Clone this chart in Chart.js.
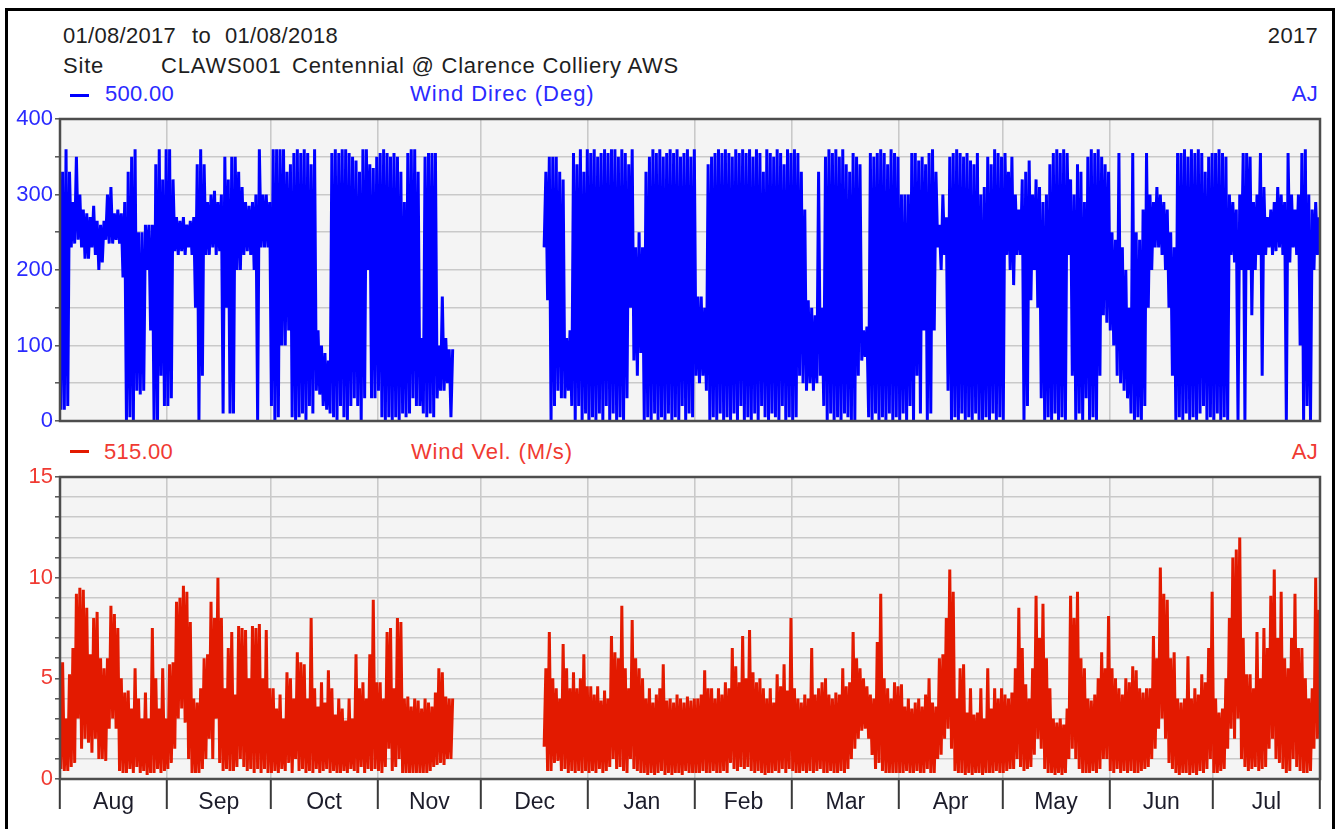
<!DOCTYPE html>
<html>
<head>
<meta charset="utf-8">
<script src="https://cdn.jsdelivr.net/npm/chart.js@4.4.1/dist/chart.umd.min.js"></script>
<style>
  html, body { margin:0; padding:0; background:#fff; }
  #wrap { position:relative; width:1338px; height:829px; overflow:hidden; font-family:"Liberation Sans", Arial, sans-serif; }
  #frame { position:absolute; left:5px; top:8px; width:1324px; height:900px; border:3px solid #000; box-sizing:content-box; }
  .t { position:absolute; font-size:22px; line-height:22px; white-space:pre; color:#1e1e1e; letter-spacing:0.3px; }
  .w { letter-spacing:0.8px; }
  .blue { color:#2a2aff; }
  .red { color:#f03a32; }
  .dash { position:absolute; height:3px; width:19px; }
  canvas { position:absolute; left:0; top:0; }
</style>
</head>
<body>
<div id="wrap">
  <div id="frame"></div>
  <div class="t" style="left:63px; top:24.6px;">01/08/2017</div>
  <div class="t" style="left:192px; top:24.6px;">to</div>
  <div class="t" style="left:225px; top:24.6px;">01/08/2018</div>
  <div class="t" style="right:20px; top:24.6px;">2017</div>
  <div class="t w" style="left:63px; top:54.8px;">Site</div>
  <div class="t w" style="left:161px; top:54.8px;">CLAWS001</div>
  <div class="t w" style="left:292px; top:54.8px; letter-spacing:0.75px;">Centennial @ Clarence Colliery AWS</div>
  <div class="dash" style="left:70px; top:94px; background:#0000ff;"></div>
  <div class="t blue" style="left:105px; top:82.6px;">500.00</div>
  <div class="t w blue" style="left:410px; top:82.6px; letter-spacing:1px;">Wind Direc (Deg)</div>
  <div class="t blue" style="right:20px; top:82.6px;">AJ</div>
  <div class="dash" style="left:70px; top:450px; background:#e31a00;"></div>
  <div class="t red" style="left:104px; top:441.3px;">515.00</div>
  <div class="t w red" style="left:411px; top:441.3px; letter-spacing:0.85px;">Wind Vel. (M/s)</div>
  <div class="t red" style="right:20px; top:441.3px;">AJ</div>
  <canvas id="c1" width="1338" height="829"></canvas>
  <canvas id="c2" width="1338" height="829"></canvas>
</div>
<script>
// ---- categories / tick labels ----
const monthNames = ['Aug','Sep','Oct','Nov','Dec','Jan','Feb','Mar','Apr','May','Jun','Jul'];
const monthDays  = [31,30,31,30,31,31,28,31,30,31,30,31];
const dirTicks   = [0,50,100,150,200,250,300,350,400];
const dirLabels  = [0,100,200,300,400];
const velTicks   = [0,1,2,3,4,5,6,7,8,9,10,11,12,13,14,15];
const velLabels  = [0,5,10,15];
const N = null;

// ---- Wind direction (deg): daily maximum / minimum, 01/08/2017 .. 31/07/2018 ----
const dirHiAug = [330,360,330,290,350,300,280,275,270,285,265,260,265,300,310,275,280,275,290,330,350,360,250,250,260,260,260,340,360,320,360];
const dirLoAug = [15,15,20,230,235,240,230,215,215,230,220,200,210,240,235,235,240,235,190,0,5,0,40,35,40,200,120,0,0,60,20];
const dirHiSep = [360,320,270,265,270,260,265,270,340,360,340,290,300,305,290,300,350,320,350,350,330,310,290,285,290,300,360,300,300,290];
const dirLoSep = [20,30,225,220,225,220,230,220,150,0,60,220,220,230,220,225,10,150,10,10,200,200,220,225,220,200,0,230,230,230];
const dirHiOct = [360,360,360,360,330,340,355,360,355,360,355,340,360,120,100,90,80,355,360,355,360,360,355,350,345,330,360,360,340,335,350];
const dirLoOct = [20,0,5,100,100,120,5,0,5,10,0,20,10,40,35,20,15,10,5,0,20,5,0,20,30,20,0,30,200,30,30];
const dirHiNov = [355,360,355,350,355,350,330,290,355,360,360,330,110,350,355,355,355,100,165,110,95,95,N,N,N,N,N,N,N,N];
const dirLoNov = [40,5,0,5,0,5,0,10,5,10,30,20,20,10,5,10,5,30,40,40,50,5,N,N,N,N,N,N,N,N];
const dirHiDec = [N,N,N,N,N,N,N,N,N,N,N,N,N,N,N,N,N,N,330,350,350,350,330,320,110,120,355,340,360,330,360];
const dirLoDec = [N,N,N,N,N,N,N,N,N,N,N,N,N,N,N,N,N,N,230,160,0,20,40,30,30,40,20,0,20,0,10];
const dirHiJan = [355,360,350,355,360,355,360,360,350,360,355,340,360,230,250,230,330,350,360,355,360,350,355,360,355,360,350,355,360,350,360];
const dirLoJan = [0,5,0,10,0,20,0,10,0,5,0,30,150,80,60,90,0,5,0,10,0,5,0,10,0,5,0,20,0,10,5];
const dirHiFeb = [165,165,150,340,350,355,360,355,360,355,350,360,355,360,355,360,350,360,355,330,360,355,350,360,355,340,360,355];
const dirLoFeb = [60,50,60,40,0,5,0,10,0,5,0,10,0,20,0,5,0,10,0,20,5,0,10,5,0,20,0,5];
const dirHiMar = [360,355,330,280,160,150,140,330,150,350,360,355,360,350,360,340,330,355,350,340,120,125,355,350,355,360,355,340,360,355,350];
const dirLoMar = [0,5,60,50,40,50,40,50,60,20,0,10,0,5,0,10,5,0,0,60,80,85,5,0,10,0,5,0,10,0,5];
const dirHiApr = [300,300,300,355,355,345,350,340,355,360,330,260,300,270,350,355,360,355,350,355,345,340,355,300,310,350,340,360,355,350];
const dirLoApr = [0,10,0,20,0,60,10,120,0,10,120,230,200,220,40,0,5,0,10,0,5,0,10,0,0,5,0,10,0,5];
const dirHiMay = [355,330,350,300,280,320,330,345,300,320,310,290,300,340,355,360,355,360,355,320,300,340,330,290,350,360,355,360,350,340,330];
const dirLoMay = [0,220,200,180,220,220,0,20,160,200,150,30,0,5,0,10,0,5,0,220,60,0,10,0,30,0,5,0,60,140,130];
const dirHiJun = [250,240,355,230,200,150,355,250,240,280,355,300,290,310,300,290,280,250,230,355,355,360,350,360,355,360,355,330,350,355];
const dirLoJun = [120,100,60,50,40,30,10,0,5,0,20,150,200,230,230,220,200,150,60,0,5,0,10,0,5,0,10,20,0,5];
const dirHiJul = [355,360,355,350,300,290,280,300,355,355,350,290,300,355,310,270,280,290,310,300,290,355,300,280,300,355,360,300,280,290,270];
const dirLoJul = [0,10,0,5,0,220,210,0,200,0,200,140,200,220,60,220,230,220,225,230,220,0,210,230,220,100,0,20,0,200,220];

// ---- Wind velocity (m/s): daily maximum / minimum ----
const velHiAug = [5.8,3.0,5.2,6.5,9.2,9.5,9.4,8.5,6.2,8.0,8.3,6.0,5.5,6.0,8.6,8.2,7.5,5.0,4.3,4.4,3.5,5.5,4.0,3.0,4.3,3.0,7.5,5.0,3.5,5.5,3.0];
const velLoAug = [0.5,0.4,0.4,0.6,0.8,3.0,1.5,2.0,1.8,1.3,2.0,1.0,1.0,0.9,2.5,3.0,2.5,0.4,0.3,0.3,0.5,0.3,0.6,0.3,0.4,0.2,0.3,0.3,0.5,0.3,0.4];
const velHiSep = [5.7,5.8,8.8,9.0,9.6,9.3,7.8,4.0,3.8,4.5,6.0,6.2,8.8,8.0,10.0,8.0,4.5,6.5,7.3,4.2,7.6,7.5,7.4,5.0,7.6,7.5,7.7,5.0,7.4,4.5];
const velLoSep = [0.5,0.8,1.5,3.0,3.5,2.8,1.0,0.3,0.3,0.3,0.5,1.0,2.0,1.0,3.0,0.8,0.4,0.5,0.4,0.4,0.6,1.0,0.6,0.4,0.5,0.3,0.5,0.3,0.5,0.3];
const velHiOct = [4.5,3.5,4.2,3.0,5.3,5.0,4.0,6.3,5.8,5.7,4.0,8.0,4.5,3.6,4.8,3.8,5.4,4.5,3.2,4.0,3.5,2.9,4.0,3.0,6.2,4.5,4.8,4.0,6.2,8.9,4.8];
const velLoOct = [0.3,0.4,0.3,0.5,0.4,0.8,0.3,1.0,0.4,0.5,0.3,0.4,0.3,0.5,0.3,0.4,0.5,0.3,0.4,0.3,0.3,0.4,0.3,0.5,0.4,0.3,0.6,0.3,0.5,0.4,0.5];
const velHiNov = [4.8,4.0,7.3,7.5,4.5,8.0,7.8,4.0,4.1,3.6,4.0,3.9,3.5,4.0,3.8,3.6,4.3,5.5,5.3,4.1,4.0,4.0,N,N,N,N,N,N,N,N];
const velLoNov = [0.4,0.3,0.6,1.5,0.4,0.6,1.0,0.3,0.3,0.3,0.3,0.3,0.3,0.3,0.3,0.4,0.6,0.7,0.8,0.7,1.0,1.0,N,N,N,N,N,N,N,N];
const velHiDec = [N,N,N,N,N,N,N,N,N,N,N,N,N,N,N,N,N,N,5.5,7.3,5.0,4.5,4.0,6.7,5.5,4.5,5.3,4.5,5.0,6.2,4.6];
const velLoDec = [N,N,N,N,N,N,N,N,N,N,N,N,N,N,N,N,N,N,1.6,0.4,0.4,0.8,0.9,0.4,0.5,0.3,0.4,0.3,0.4,0.3,0.4];
const velHiJan = [4.6,4.2,4.6,3.9,4.4,4.0,7.1,6.3,6.0,8.6,5.5,4.5,7.9,6.0,5.5,5.0,4.0,4.5,3.8,4.2,4.5,5.7,3.9,4.0,3.8,4.2,4.0,3.8,4.1,3.9,4.0];
const velLoJan = [0.3,0.4,0.3,0.5,0.3,0.4,0.6,1.0,0.5,0.6,0.4,0.3,1.0,0.5,0.4,0.3,0.3,0.2,0.3,0.2,0.3,0.4,0.2,0.3,0.2,0.3,0.3,0.2,0.4,0.3,0.3];
const velHiFeb = [4.0,4.2,5.4,4.5,4.5,4.0,4.5,4.2,4.8,4.5,6.5,5.6,4.8,7.1,5.0,7.4,5.3,4.8,5.0,4.5,4.0,4.5,3.8,5.2,4.6,5.7,4.4,8.0];
const velLoFeb = [0.3,0.3,0.4,0.3,0.3,0.4,0.3,0.3,0.4,0.3,0.8,0.5,0.4,0.6,0.5,0.6,0.4,0.3,0.4,0.3,0.2,0.3,0.3,0.4,0.3,0.5,0.3,0.5];
const velHiMar = [4.5,4.0,3.8,4.2,4.0,6.5,4.2,4.5,4.8,5.0,4.2,4.0,4.3,4.2,5.5,4.6,4.8,7.3,6.0,5.5,5.0,4.6,4.2,4.0,6.8,9.2,5.0,4.5,4.0,4.8,4.6];
const velLoMar = [0.4,0.3,0.3,0.4,0.3,0.4,0.3,0.4,0.5,0.3,0.3,0.4,0.3,0.3,0.4,0.3,0.5,1.0,1.5,2.0,2.4,2.5,2.0,1.2,0.5,0.8,0.4,0.3,0.3,0.3,0.3];
const velHiApr = [4.7,3.6,4.0,3.5,3.8,4.0,3.6,4.2,5.0,3.8,3.6,6.0,6.2,8.0,10.4,9.3,4.0,5.5,5.7,3.3,4.5,3.2,3.3,4.5,3.0,5.5,3.5,4.5,4.0,4.5];
const velLoApr = [0.3,0.3,0.4,0.3,0.3,0.4,0.3,0.3,0.5,0.3,0.3,1.0,1.2,2.0,2.5,1.5,0.4,0.3,0.3,0.2,0.3,0.2,0.3,0.3,0.2,0.3,0.3,0.3,0.4,0.3];
const velHiMay = [4.2,4.0,4.3,5.5,8.5,6.5,4.7,4.0,5.5,9.1,7.0,8.7,6.0,4.5,3.0,2.8,3.0,2.7,3.5,9.1,8.0,9.3,6.0,5.5,4.0,3.9,4.2,5.0,6.3,5.5,8.1];
const velLoMay = [0.3,0.4,0.5,0.5,1.0,0.6,0.4,0.5,0.6,1.2,2.0,1.5,0.5,0.3,0.3,0.2,0.3,0.2,0.3,1.0,1.5,1.0,0.5,0.3,0.3,0.3,0.4,0.3,0.5,1.0,1.0];
const velHiJun = [5.5,5.0,4.5,4.2,5.0,4.8,5.6,5.4,4.5,4.3,4.5,4.5,7.1,6.0,10.5,9.2,8.9,6.0,6.3,4.0,3.8,4.0,6.1,4.0,4.5,4.2,5.2,4.8,6.5,9.3];
const velLoJun = [0.4,0.3,0.5,0.3,0.4,0.3,0.4,0.3,0.3,0.4,0.5,0.6,1.0,1.5,2.5,3.0,2.0,0.8,0.5,0.3,0.2,0.3,0.3,0.2,0.3,0.2,0.4,0.3,0.5,1.0];
const velHiJul = [4.0,3.3,3.5,5.0,8.0,11.0,11.4,12.0,7.0,5.2,5.2,4.5,7.3,5.0,7.5,6.5,9.1,10.4,7.0,9.3,6.0,5.5,7.0,9.2,6.5,6.5,5.0,4.0,4.5,10.0,8.4];
const velLoJul = [0.3,0.3,0.4,0.5,1.5,2.5,2.0,3.0,1.0,0.6,0.4,0.5,0.6,0.4,0.5,0.6,1.5,2.0,1.0,0.8,0.5,0.3,0.4,1.0,0.6,0.4,0.3,0.3,0.4,1.5,2.0];

const dirHi = [dirHiAug,dirHiSep,dirHiOct,dirHiNov,dirHiDec,dirHiJan,dirHiFeb,dirHiMar,dirHiApr,dirHiMay,dirHiJun,dirHiJul];
const dirLo = [dirLoAug,dirLoSep,dirLoOct,dirLoNov,dirLoDec,dirLoJan,dirLoFeb,dirLoMar,dirLoApr,dirLoMay,dirLoJun,dirLoJul];
const velHi = [velHiAug,velHiSep,velHiOct,velHiNov,velHiDec,velHiJan,velHiFeb,velHiMar,velHiApr,velHiMay,velHiJun,velHiJul];
const velLo = [velLoAug,velLoSep,velLoOct,velLoNov,velLoDec,velLoJan,velLoFeb,velLoMar,velLoApr,velLoMay,velLoJun,velLoJul];

// month boundaries (days from 01/08/2017)
const bounds = [0];
monthDays.forEach(d => bounds.push(bounds[bounds.length-1] + d));
const mids = monthNames.map((m,i) => (bounds[i] + bounds[i+1]) / 2);

// each day: the minimum then the maximum reading, plotted inside that day
function toPoints(hiMonths, loMonths) {
  const pts = [];
  hiMonths.forEach((hiArr, m) => hiArr.forEach((hi, i) => {
    const lo = loMonths[m][i];
    pts.push({x: bounds[m] + i + 0.25, y: lo});
    pts.push({x: bounds[m] + i + 0.75, y: hi});
  }));
  return pts;
}

const FONT = {family: '"Liberation Sans", Arial, sans-serif', size: 22};
const MFONT = {family: '"Liberation Sans", Arial, sans-serif', size: 23};
const GRID = '#c9c9c9';

const panelPlugin = {
  id: 'panel',
  beforeDraw(chart) {
    const a = chart.chartArea, ctx = chart.ctx;
    ctx.save(); ctx.fillStyle = '#f4f4f4';
    ctx.fillRect(a.left, a.top, a.right - a.left, a.bottom - a.top);
    ctx.restore();
  },
  afterDraw(chart) {
    const a = chart.chartArea, ctx = chart.ctx;
    ctx.save(); ctx.strokeStyle = '#4d4d4d'; ctx.lineWidth = 2.5;
    ctx.strokeRect(a.left, a.top, a.right - a.left, a.bottom - a.top);
    ctx.restore();
  }
};

function makePanel(canvasId, points, color, yTicks, yLabels, yMax, labelColor, pad, showMonths) {
  const isBound = v => bounds.includes(v);
  return new Chart(document.getElementById(canvasId), {
    type: 'line',
    data: { datasets: [{ data: points, borderColor: color, borderWidth: 3, pointRadius: 0, tension: 0, spanGaps: false, fill: false, borderJoinStyle: 'bevel', borderCapStyle: 'butt' }] },
    options: {
      responsive: false, animation: false, devicePixelRatio: 1,
      layout: { padding: pad },
      plugins: { legend: {display: false}, tooltip: {enabled: false} },
      scales: {
        x: {
          type: 'linear', min: 0, max: 365,
          afterBuildTicks: s => {
            const vals = showMonths ? bounds.concat(mids).sort((a,b)=>a-b) : bounds.slice();
            s.ticks = vals.map(v => ({value: v}));
          },
          afterFit: s => { s.height = showMonths ? 50 : 0; },
          border: {display: false},
          grid: {
            color: c => (c.tick && isBound(c.tick.value)) ? GRID : 'rgba(0,0,0,0)',
            lineWidth: 1.6,
            drawTicks: showMonths,
            tickLength: 30,
            tickColor: c => (c.tick && isBound(c.tick.value)) ? '#3a3a3a' : 'rgba(0,0,0,0)',
            tickWidth: 2
          },
          ticks: {
            display: showMonths, autoSkip: false, maxRotation: 0, minRotation: 0,
            padding: -20, color: '#1c1c2a', font: MFONT,
            callback: v => { const k = mids.indexOf(v); return k >= 0 ? monthNames[k] : ''; }
          }
        },
        y: {
          min: 0, max: yMax,
          afterBuildTicks: s => { s.ticks = yTicks.map(v => ({value: v})); },
          afterFit: s => { s.width = 60; },
          border: {display: false},
          grid: { color: GRID, lineWidth: 1.6, tickLength: 5, tickColor: '#555', tickWidth: 1.5 },
          ticks: {
            autoSkip: false, padding: 2, color: labelColor, font: FONT,
            callback: v => yLabels.includes(v) ? String(v) : ''
          }
        }
      }
    },
    plugins: [panelPlugin]
  });
}

makePanel('c1', toPoints(dirHi, dirLo), '#0000ff', dirTicks, dirLabels, 400, '#2a2aff',
  {left: 0, top: 119, right: 18, bottom: 408}, false);
makePanel('c2', toPoints(velHi, velLo), '#e31a00', velTicks, velLabels, 15, '#f03a32',
  {left: 0, top: 477, right: 18, bottom: 0}, true);
</script>
</body>
</html>
